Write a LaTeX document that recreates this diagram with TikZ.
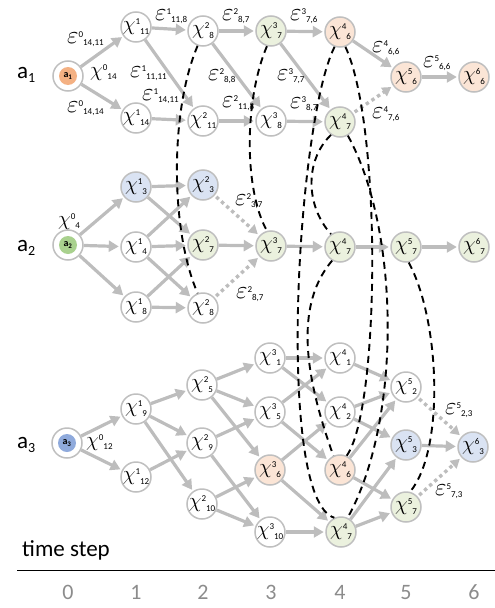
\documentclass[tikz,border=0pt]{standalone}
\usepackage{fontspec}
\setmainfont{Carlito}
\usetikzlibrary{arrows.meta}
\definecolor{edgegray}{HTML}{BDBDBD}
\definecolor{nodegray}{HTML}{BFBFBF}
\definecolor{fo}{HTML}{FBE5D6}
\definecolor{fg}{HTML}{EBF1DE}
\definecolor{fb}{HTML}{DAE3F3}
\definecolor{ao}{HTML}{F4B183}
\definecolor{ag}{HTML}{A9D18E}
\definecolor{ab}{HTML}{8FAADC}
\definecolor{numgray}{HTML}{8C8C8C}
\newcommand{\Xn}[2]{\smash{\makebox[0pt]{\raisebox{-3.5pt}{\fontsize{22}{22}\selectfont$\chi$}\raisebox{2.3pt}{\fontsize{9}{9}\selectfont#1}\raisebox{-7pt}{\fontsize{9}{9}\selectfont#2}}}}
\newcommand{\Xf}[2]{{\fontsize{22}{22}\selectfont$\chi$}\raisebox{5.8pt}{\fontsize{9}{9}\selectfont#1}\raisebox{-3.5pt}{\fontsize{9}{9}\selectfont#2}}
\newcommand{\Ep}[2]{{\fontsize{23}{23}\selectfont$\varepsilon$}\raisebox{6pt}{\fontsize{9}{9}\selectfont#1}\raisebox{-2pt}{\fontsize{9}{9}\selectfont#2}}
\newcommand{\Ag}[1]{{\fontsize{23}{23}\selectfont a}\raisebox{-4pt}{\fontsize{14}{14}\selectfont #1}}
\tikzset{
 st/.style={circle, draw=nodegray, line width=1.5pt, minimum size=30pt, inner sep=0pt, fill=white},
 sto/.style={st, fill=fo},
 stg/.style={st, fill=fg},
 stb/.style={st, fill=fb},
 agin/.style={circle, minimum size=18pt, inner sep=0pt, font=\fontsize{10}{10}\selectfont\bfseries},
 ar/.style={draw=edgegray, line width=3.2pt, -{Triangle[length=10pt,width=11pt]}, shorten >=1.5pt},
 dar/.style={draw=edgegray, line width=3.4pt, dash pattern=on 3.4pt off 3.4pt, -{Triangle[length=9pt,width=10pt]}, shorten >=2pt, shorten <=2pt},
 cons/.style={draw=black, line width=1.9pt, dash pattern=on 7pt off 5pt},
 lab/.style={anchor=base west, inner sep=0pt},
 num/.style={anchor=base, inner sep=0pt, text=numgray, font=\fontsize{22}{22}\selectfont},
}
\begin{document}
\begin{tikzpicture}[x=1pt,y=-1pt]
\useasboundingbox (0,0) rectangle (495,608);

% ---------- agent 1 ----------
\node[lab] (ra1) at (17,78) {\Ag{1}};
\node[st] (u0) at (68,76) {};
\node[agin, fill=ao] (u0i) at (u0) {a\textsubscript{1}};
\node[st] (u1-11) at (136,27) {\Xn{1}{11}};
\node[st] (u1-14) at (136,118) {\Xn{1}{14}};
\node[st] (u2-8) at (203,31) {\Xn{2}{8}};
\node[st] (u2-11) at (203,121) {\Xn{2}{11}};
\node[stg] (u3-7) at (271,31) {\Xn{3}{7}};
\node[st] (u3-8) at (271,121) {\Xn{3}{8}};
\node[sto] (u4-6) at (340,32) {\Xn{4}{6}};
\node[stg] (u4-7) at (340,122) {\Xn{4}{7}};
\node[sto] (u5-6) at (406,77) {\Xn{5}{6}};
\node[sto] (u6-6) at (474,77) {\Xn{6}{6}};

% ---------- agent 2 ----------
\node[lab] (ra2) at (17,251) {\Ag{2}};
\node[st] (v0) at (68,245) {};
\node[agin, fill=ag] (v0i) at (v0) {a\textsubscript{2}};
\node[stb] (v1-3) at (136,187) {\Xn{1}{3}};
\node[st] (v1-4) at (136,247) {\Xn{1}{4}};
\node[st] (v1-8) at (136,307) {\Xn{1}{8}};
\node[stb] (v2-3) at (203,185) {\Xn{2}{3}};
\node[stg] (v2-7) at (203,245) {\Xn{2}{7}};
\node[st] (v2-8) at (203,308) {\Xn{2}{8}};
\node[stg] (v3-7) at (271,246) {\Xn{3}{7}};
\node[stg] (v4-7) at (340,247) {\Xn{4}{7}};
\node[stg] (v5-7) at (406,247) {\Xn{5}{7}};
\node[stg] (v6-7) at (474,247) {\Xn{6}{7}};

% ---------- agent 3 ----------
\node[lab] (ra3) at (17,448) {\Ag{3}};
\node[st] (w0) at (67,443) {};
\node[agin, fill=ab] (w0i) at (w0) {a\textsubscript{3}};
\node[st] (w1-9) at (136,409) {\Xn{1}{9}};
\node[st] (w1-12) at (136,477) {\Xn{1}{12}};
\node[st] (w2-5) at (202,385) {\Xn{2}{5}};
\node[st] (w2-9) at (202,443) {\Xn{2}{9}};
\node[st] (w2-10) at (202,504) {\Xn{2}{10}};
\node[st] (w3-1) at (270,358) {\Xn{3}{1}};
\node[st] (w3-5) at (270,412) {\Xn{3}{5}};
\node[sto] (w3-6) at (270,470) {\Xn{3}{6}};
\node[st] (w3-10) at (270,532) {\Xn{3}{10}};
\node[st] (w4-1) at (340,358) {\Xn{4}{1}};
\node[st] (w4-2) at (340,412) {\Xn{4}{2}};
\node[sto] (w4-6) at (340,470) {\Xn{4}{6}};
\node[stg] (w4-7) at (341,532) {\Xn{4}{7}};
\node[st] (w5-2) at (406,387) {\Xn{5}{2}};
\node[stb] (w5-3) at (406,445) {\Xn{5}{3}};
\node[stg] (w5-7) at (406,507) {\Xn{5}{7}};
\node[stb] (w6-3) at (473,447) {\Xn{6}{3}};

% ---------- solid edges ----------
\draw[ar] (u0) -- (u1-11);
\draw[ar] (u0) -- (u1-14);
\draw[ar] (u1-11) -- (u2-8);
\draw[ar] (u1-11) -- (u2-11);
\draw[ar] (u1-14) -- (u2-11);
\draw[ar] (u2-8) -- (u3-7);
\draw[ar] (u2-8) -- (u3-8);
\draw[ar] (u2-11) -- (u3-8);
\draw[ar] (u3-7) -- (u4-6);
\draw[ar] (u3-7) -- (u4-7);
\draw[ar] (u3-8) -- (u4-7);
\draw[ar] (u4-6) -- (u5-6);
\draw[ar] (u5-6) -- (u6-6);

\draw[ar] (v0) -- (v1-3);
\draw[ar] (v0) -- (v1-4);
\draw[ar] (v0) -- (v1-8);
\draw[ar] (v1-3) -- (v2-3);
\draw[ar] (v1-3) -- (v2-7);
\draw[ar] (v1-4) -- (v2-3);
\draw[ar] (v1-4) -- (v2-7);
\draw[ar] (v1-4) -- (v2-8);
\draw[ar] (v1-8) -- (v2-7);
\draw[ar] (v1-8) -- (v2-8);
\draw[ar] (v2-7) -- (v3-7);
\draw[ar] (v3-7) -- (v4-7);
\draw[ar] (v4-7) -- (v5-7);
\draw[ar] (v5-7) -- (v6-7);

\draw[ar] (w0) -- (w1-9);
\draw[ar] (w0) -- (w1-12);
\draw[ar] (w1-9) -- (w2-5);
\draw[ar] (w1-9) -- (w2-9);
\draw[ar] (w1-9) -- (w2-10);
\draw[ar] (w1-12) -- (w2-9);
\draw[ar] (w2-5) -- (w3-1);
\draw[ar] (w2-5) -- (w3-5);
\draw[ar] (w2-5) -- (w3-6);
\draw[ar] (w2-9) -- (w3-5);
\draw[ar] (w2-9) -- (w3-10);
\draw[ar] (w2-10) -- (w3-6);
\draw[ar] (w2-10) -- (w3-10);
\draw[ar] (w3-1) -- (w4-1);
\draw[ar] (w3-1) -- (w4-2);
\draw[ar] (w3-5) -- (w4-1);
\draw[ar] (w3-5) -- (w4-6);
\draw[ar] (w3-6) -- (w4-2);
\draw[ar] (w3-6) -- (w4-7);
\draw[ar] (w3-10) -- (w4-7);
\draw[ar] (w4-1) -- (w5-2);
\draw[ar] (w4-2) -- (w5-2);
\draw[ar] (w4-2) -- (w5-3);
\draw[ar] (w4-6) -- (w5-2);
\draw[ar] (w4-6) -- (w5-7);
\draw[ar] (w4-7) -- (w5-3);
\draw[ar] (w4-7) -- (w5-7);
\draw[ar] (w5-3) -- (w6-3);

% ---------- dotted edges ----------
\draw[dar] (u4-7) -- (u5-6);
\draw[dar] (v2-3) -- (v3-7);
\draw[dar] (v2-8) -- (v3-7);
\draw[dar] (w5-2) -- (w6-3);
\draw[dar] (w5-7) -- (w6-3);

% ---------- dashed constraint curves ----------
\draw[cons] (u2-8.250) .. controls (170,110) and (170,230) .. (v2-8.110);
\draw[cons] (u3-7.255) .. controls (244,100) and (244,190) .. (v3-7.105);
\draw[cons] (u4-7.235) .. controls (305,160) and (305,205) .. (v4-7.125);
\draw[cons] (u4-6.250) .. controls (297,120) and (275,500) .. (w4-7.115);
\draw[cons] (u4-6.290) .. controls (382,125) and (380,410) .. (w4-6.65);
\draw[cons] (u4-7.300) .. controls (400,230) and (402,420) .. (w4-7.65);
\draw[cons] (v4-7.240) .. controls (290,310) and (310,390) .. (w4-6.115);
\draw[cons] (v5-7.280) .. controls (440,320) and (445,450) .. (w5-7.75);

% ---------- labels ----------
\node[lab] (l1) at (67,43) {\Ep{0}{14,11}};
\node[lab] (l2) at (67,112) {\Ep{0}{14,14}};
\node[lab] (l3) at (90,76) {\Xf{0}{14}};
\node[lab] (l4) at (155,20) {\Ep{1}{11,8}};
\node[lab] (l5) at (130,77) {\Ep{1}{11,11}};
\node[lab] (l6) at (142,100) {\Ep{1}{14,11}};
\node[lab] (l7) at (222,20) {\Ep{2}{8,7}};
\node[lab] (l8) at (208,80) {\Ep{2}{8,8}};
\node[lab] (l9) at (222,107) {\Ep{2}{11,8}};
\node[lab] (l10) at (290,20) {\Ep{3}{7,6}};
\node[lab] (l11) at (277,80) {\Ep{3}{7,7}};
\node[lab] (l12) at (290,108) {\Ep{3}{8,7}};
\node[lab] (l13) at (372,52) {\Ep{4}{6,6}};
\node[lab] (l14) at (372,118) {\Ep{4}{7,6}};
\node[lab] (l15) at (423,67) {\Ep{5}{6,6}};
\node[lab] (l16) at (58,225) {\Xf{0}{4}};
\node[lab] (l17) at (235,205) {\Ep{2}{3,7}};
\node[lab] (l18) at (236,298) {\Ep{2}{8,7}};
\node[lab] (l19) at (86,446) {\Xf{0}{12}};
\node[lab] (l20) at (445,414) {\Ep{5}{2,3}};
\node[lab] (l21) at (435,495) {\Ep{5}{7,3}};

% ---------- time axis ----------
\node[lab, font=\fontsize{23}{23}\selectfont] (ts) at (22,556) {time step};
\coordinate (axl) at (17,570);
\coordinate (axr) at (495,570);
\draw[line width=1pt] (axl) -- (axr);
\node[num] (t0) at (68,599) {0};
\node[num] (t1) at (136,599) {1};
\node[num] (t2) at (203,599) {2};
\node[num] (t3) at (271,599) {3};
\node[num] (t4) at (340,599) {4};
\node[num] (t5) at (406,599) {5};
\node[num] (t6) at (474,599) {6};
\end{tikzpicture}
\end{document}
